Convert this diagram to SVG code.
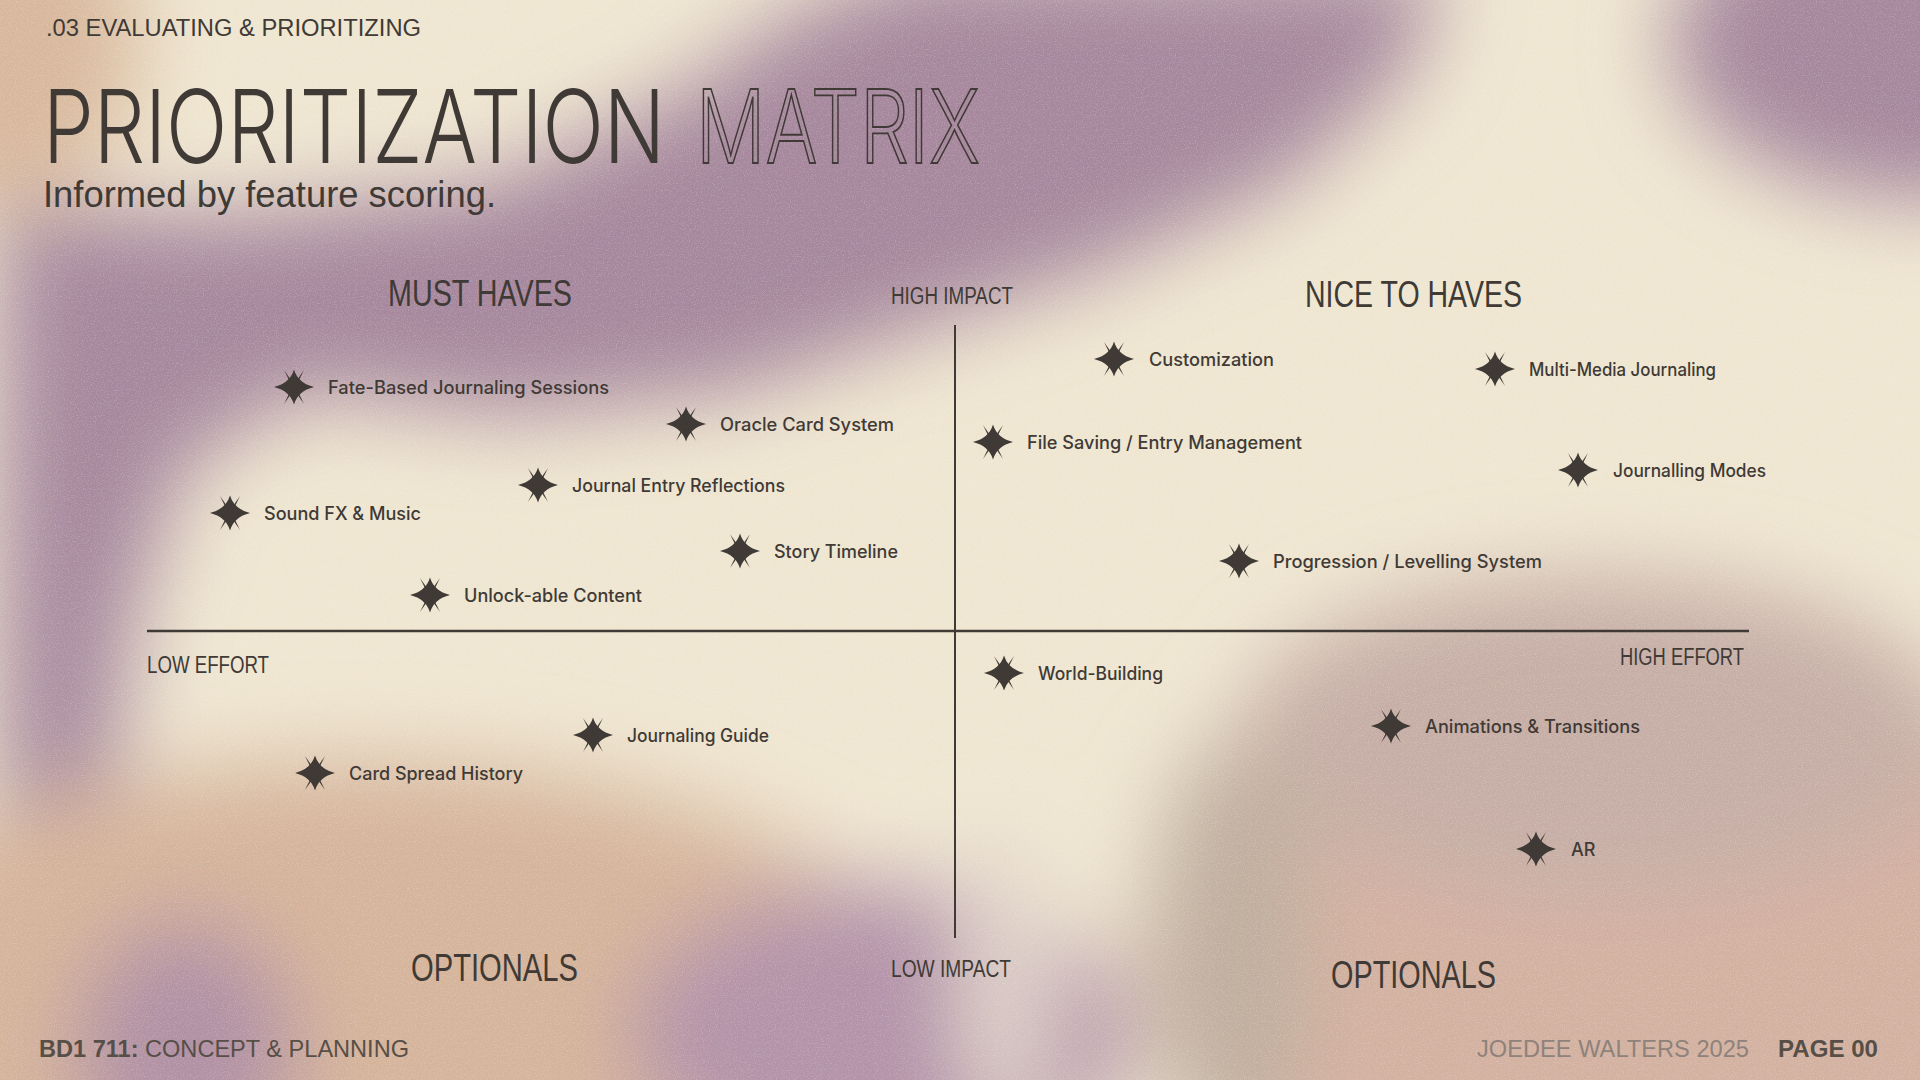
<svg xmlns="http://www.w3.org/2000/svg" width="1920" height="1080" viewBox="0 0 1920 1080">
<defs>
<filter id="blur" x="-50%" y="-50%" width="200%" height="200%"><feGaussianBlur stdDeviation="42"/></filter>
<filter id="grain" x="0" y="0" width="100%" height="100%">
<feTurbulence type="fractalNoise" baseFrequency="0.85" numOctaves="2" stitchTiles="stitch"/>
<feColorMatrix type="matrix" values="0 0 0 0 1  0 0 0 0 0.98  0 0 0 0 0.92  1.6 0 0 0 -0.75"/>
</filter>
<g id="star">
<path d="M0,-17.5 Q4,-4 20,0 Q4,4 0,17.5 Q-4,4 -20,0 Q-4,-4 0,-17.5 Z"/>
<path d="M1.3,0.75 L10,-17 L-1.3,-0.75 Z"/>
<path d="M-1.3,0.75 L-10,-17 L1.3,-0.75 Z"/>
<path d="M1.3,-0.75 L10,17 L-1.3,0.75 Z"/>
<path d="M-1.3,-0.75 L-10,17 L1.3,0.75 Z"/>
</g>
<style>
.ink{fill:#403a36}
.lbl{font-family:Inter,"Liberation Sans",sans-serif;font-size:18px;font-weight:500;fill:#403a36}
.deco{font-family:"Liberation Sans",Arial,sans-serif;fill:#403a36}
.title{font-family:Inter,"Liberation Sans",sans-serif;font-weight:300;font-size:102px}
.head{font-size:36px}
.axis{font-size:23px}
.opt{font-size:38px}
.ft{font-family:"Liberation Sans",Arial,sans-serif;font-size:24px}
.line{stroke:#403a36;fill:none}
</style>
</defs>

<g id="background">
<rect x="0" y="0" width="1920" height="1080" fill="#efe6d1"/>
<g filter="url(#blur)">
<ellipse cx="0" cy="40" rx="140" ry="170" fill="#d8b89c"/>
<polygon points="0,208 245,214 490,184 673,98 796,12 918,-37 1445,-37 1408,73 1286,184 1102,269 955,318 735,392 514,416 306,392 184,465 135,612 110,796 73,931 0,955" fill="#a6879d"/>
<ellipse cx="1930" cy="40" rx="260" ry="160" fill="#a6879d"/>
<ellipse cx="360" cy="1000" rx="560" ry="240" fill="#d5b49b"/>
<ellipse cx="185" cy="1050" rx="110" ry="130" fill="#b090a4"/>
<ellipse cx="880" cy="1035" rx="250" ry="150" fill="#b393a9"/>
<ellipse cx="1005" cy="985" rx="45" ry="150" fill="#e3d6cc"/>
<ellipse cx="1660" cy="960" rx="520" ry="300" fill="#d3b1a1"/>
<ellipse cx="1600" cy="735" rx="360" ry="160" fill="#c6aea6"/>
<ellipse cx="1230" cy="950" rx="80" ry="210" fill="#bfae9e"/>
</g>
<rect x="0" y="0" width="1920" height="1080" filter="url(#grain)" opacity="0.35"/>
</g>

<g id="header">
<text class="deco" x="46" y="36" font-size="23" fill="#5a524c" textLength="375" lengthAdjust="spacingAndGlyphs">.03 EVALUATING &amp; PRIORITIZING</text>
<text class="title" transform="translate(43,163) scale(0.77,1)" x="0" y="0" fill="#403a36" textLength="808" lengthAdjust="spacingAndGlyphs">PRIORITIZATION</text>
<text class="title" transform="translate(696,163) scale(0.77,1)" x="0" y="0" fill="none" stroke="#403a36" stroke-width="1.9" textLength="369" lengthAdjust="spacingAndGlyphs">MATRIX</text>
<text class="deco" x="43" y="207" font-size="37" fill="#4a443f" textLength="453" lengthAdjust="spacingAndGlyphs">Informed by feature scoring.</text>
</g>

<g id="axes">
<line class="line" x1="955" y1="325" x2="955" y2="938" stroke-width="2"/>
<line class="line" x1="147" y1="631" x2="1749" y2="631" stroke-width="2.5"/>
</g>

<g id="quadrant-labels">
<text class="deco head" x="388" y="306" textLength="184" lengthAdjust="spacingAndGlyphs">MUST HAVES</text>
<text class="deco head" x="1305" y="307" textLength="217" lengthAdjust="spacingAndGlyphs">NICE TO HAVES</text>
<text class="deco opt" x="411" y="981" textLength="167" lengthAdjust="spacingAndGlyphs">OPTIONALS</text>
<text class="deco opt" x="1331" y="988" textLength="165" lengthAdjust="spacingAndGlyphs">OPTIONALS</text>
<text class="deco axis" x="891" y="304" textLength="122" lengthAdjust="spacingAndGlyphs">HIGH IMPACT</text>
<text class="deco axis" x="891" y="977" textLength="120" lengthAdjust="spacingAndGlyphs">LOW IMPACT</text>
<text class="deco axis" x="147" y="673" textLength="122" lengthAdjust="spacingAndGlyphs">LOW EFFORT</text>
<text class="deco axis" x="1620" y="665" textLength="124" lengthAdjust="spacingAndGlyphs">HIGH EFFORT</text>
</g>

<g id="nodes">
<g id="fate-based"><use href="#star" x="294" y="387" class="ink"/><text class="lbl" x="328" y="394" textLength="281" lengthAdjust="spacingAndGlyphs">Fate-Based Journaling Sessions</text></g>
<g id="oracle-card"><use href="#star" x="686" y="424" class="ink"/><text class="lbl" x="720" y="431" textLength="174" lengthAdjust="spacingAndGlyphs">Oracle Card System</text></g>
<g id="journal-reflections"><use href="#star" x="538" y="485" class="ink"/><text class="lbl" x="572" y="492" textLength="213" lengthAdjust="spacingAndGlyphs">Journal Entry Reflections</text></g>
<g id="sound-fx"><use href="#star" x="230" y="513" class="ink"/><text class="lbl" x="264" y="520" textLength="157" lengthAdjust="spacingAndGlyphs">Sound FX &amp; Music</text></g>
<g id="story-timeline"><use href="#star" x="740" y="551" class="ink"/><text class="lbl" x="774" y="558" textLength="124" lengthAdjust="spacingAndGlyphs">Story Timeline</text></g>
<g id="unlockable"><use href="#star" x="430" y="595" class="ink"/><text class="lbl" x="464" y="602" textLength="178" lengthAdjust="spacingAndGlyphs">Unlock-able Content</text></g>
<g id="customization"><use href="#star" x="1114" y="359" class="ink"/><text class="lbl" x="1149" y="366" textLength="125" lengthAdjust="spacingAndGlyphs">Customization</text></g>
<g id="multi-media"><use href="#star" x="1495" y="369" class="ink"/><text class="lbl" x="1529" y="376" textLength="187" lengthAdjust="spacingAndGlyphs">Multi-Media Journaling</text></g>
<g id="file-saving"><use href="#star" x="993" y="442" class="ink"/><text class="lbl" x="1027" y="449" textLength="275" lengthAdjust="spacingAndGlyphs">File Saving / Entry Management</text></g>
<g id="journalling-modes"><use href="#star" x="1578" y="470" class="ink"/><text class="lbl" x="1613" y="477" textLength="153" lengthAdjust="spacingAndGlyphs">Journalling Modes</text></g>
<g id="progression"><use href="#star" x="1239" y="561" class="ink"/><text class="lbl" x="1273" y="568" textLength="269" lengthAdjust="spacingAndGlyphs">Progression / Levelling System</text></g>
<g id="journaling-guide"><use href="#star" x="593" y="735" class="ink"/><text class="lbl" x="627" y="742" textLength="142" lengthAdjust="spacingAndGlyphs">Journaling Guide</text></g>
<g id="card-spread"><use href="#star" x="315" y="773" class="ink"/><text class="lbl" x="349" y="780" textLength="174" lengthAdjust="spacingAndGlyphs">Card Spread History</text></g>
<g id="world-building"><use href="#star" x="1004" y="673" class="ink"/><text class="lbl" x="1038" y="680" textLength="125" lengthAdjust="spacingAndGlyphs">World-Building</text></g>
<g id="animations"><use href="#star" x="1391" y="726" class="ink"/><text class="lbl" x="1425" y="733" textLength="215" lengthAdjust="spacingAndGlyphs">Animations &amp; Transitions</text></g>
<g id="ar"><use href="#star" x="1536" y="849" class="ink"/><text class="lbl" x="1571" y="856">AR</text></g>
</g>

<g id="footer">
<text class="ft" x="39" y="1057" fill="#574f47" textLength="370" lengthAdjust="spacingAndGlyphs"><tspan font-weight="bold">BD1 711:</tspan> CONCEPT &amp; PLANNING</text>
<text class="ft" x="1477" y="1057" fill="#8e827b" textLength="272" lengthAdjust="spacingAndGlyphs">JOEDEE WALTERS 2025</text>
<text class="ft" x="1778" y="1057" fill="#574f47" font-weight="bold" textLength="100" lengthAdjust="spacingAndGlyphs">PAGE 00</text>
</g>
</svg>
